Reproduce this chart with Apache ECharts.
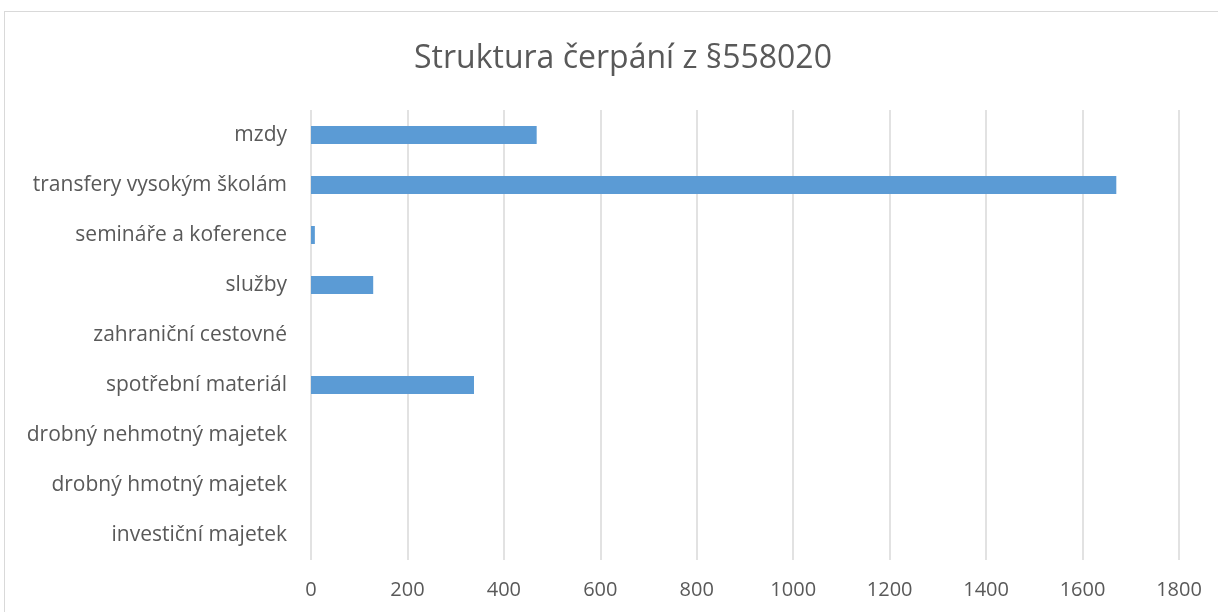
<!DOCTYPE html>
<html>
<head>
<meta charset="utf-8">
<script src="https://cdn.jsdelivr.net/npm/echarts@6/dist/echarts.min.js"></script>
<style>
  html, body { margin: 0; padding: 0; background: #fff; }
  #frame { position: absolute; left: 4px; top: 11px; width: 1230px; height: 620px; border: 1px solid #d9d9d9; box-sizing: border-box; }
  #main { position: absolute; left: 0; top: 0; width: 1218px; height: 612px; }
</style>
</head>
<body>
<div id="frame"></div>
<div id="main"></div>
<script>
var categories = [
  'mzdy',
  'transfery vysokým školám',
  'semináře a koference',
  'služby',
  'zahraniční cestovné',
  'spotřební materiál',
  'drobný nehmotný majetek',
  'drobný hmotný majetek',
  'investiční majetek'
];
var values = [468, 1670, 8, 129, 0, 338, 0, 0, 0];

var chart = echarts.init(document.getElementById('main'));

var option = {
  animation: false,
  title: {
    text: 'Struktura čerpání z §558020',
    left: 409,
    top: 38,
    textStyle: {
      fontFamily: 'Open Sans',
      fontWeight: 'normal',
      fontSize: 32,
      color: '#595959'
    }
  },
  grid: {
    left: 311,
    right: 39,
    top: 110,
    bottom: 52
  },
  xAxis: {
    type: 'value',
    min: 0,
    max: 1800,
    interval: 200,
    axisLine: { show: false },
    axisTick: { show: false },
    axisLabel: {
      margin: 20,
      fontFamily: 'Open Sans',
      fontSize: 20,
      color: '#595959',
      formatter: function (v) { return String(v); }
    },
    splitLine: { lineStyle: { color: '#d9d9d9', width: 1.5 } }
  },
  yAxis: {
    type: 'category',
    data: categories,
    inverse: true,
    axisLine: { show: false },
    axisTick: { show: false },
    axisLabel: {
      margin: 24,
      fontFamily: 'Open Sans',
      fontSize: 21,
      color: '#595959'
    }
  },
  series: [{
    type: 'bar',
    data: values,
    barWidth: 18,
    itemStyle: { color: '#5b9bd5' }
  }]
};
chart.setOption(option);
</script>
</body>
</html>
